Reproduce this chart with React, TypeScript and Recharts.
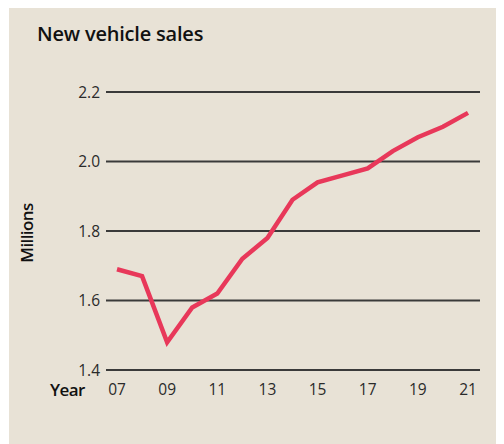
import { CartesianGrid, Line, LineChart, XAxis, YAxis } from 'recharts';

const years = [2007, 2008, 2009, 2010, 2011, 2012, 2013, 2014, 2015, 2016, 2017, 2018, 2019, 2020, 2021];
const sales = [1.69, 1.67, 1.48, 1.58, 1.62, 1.72, 1.78, 1.89, 1.94, 1.96, 1.98, 2.03, 2.07, 2.1, 2.14];
const xTicks = [2007, 2009, 2011, 2013, 2015, 2017, 2019, 2021];
const yTicks = [1.4, 1.6, 1.8, 2.0, 2.2];

const data = years.map((year, i) => ({ year, sales: sales[i] }));

const FONT = '"Open Sans", sans-serif';
const BG = '#e8e2d6';

export default function App() {
  return (
    <div style={{ position: 'relative', width: 495, height: 436, marginLeft: 1, background: BG, fontFamily: FONT }}>
      <div style={{ position: 'absolute', left: 28, top: 12, fontSize: 20, fontWeight: 600, letterSpacing: -0.2, color: '#111' }}>
        New vehicle sales
      </div>
      <div style={{ position: 'absolute', left: 17, top: 225, width: 0, height: 0 }}>
        <div style={{ position: 'absolute', transform: 'translate(-50%, -50%) rotate(-90deg)', fontSize: 17, fontWeight: 600, color: '#111', whiteSpace: 'nowrap', letterSpacing: -0.6 }}>
          Millions
        </div>
      </div>
      <div style={{ position: 'absolute', left: 41, top: 370, fontSize: 17, fontWeight: 600, color: '#111', letterSpacing: -0.6 }}>
        Year
      </div>
      <LineChart width={495} height={436} data={data} margin={{ top: 84, right: 24, bottom: 44, left: 57 }}>
        <CartesianGrid vertical={false} stroke="#3a3a3a" strokeWidth={1.8} />
        <XAxis
          dataKey="year"
          type="number"
          domain={[2007, 2021]}
          ticks={xTicks}
          padding={{ left: 11, right: 12 }}
          tickFormatter={(v: number) => String(v % 100).padStart(2, '0')}
          axisLine={false}
          tickLine={false}
          tickSize={0}
          tickMargin={14}
          height={30}
          tick={{ fill: '#2a2a2a', fontSize: 15.5, fontFamily: FONT }}
        />
        <YAxis
          domain={[1.4, 2.2]}
          ticks={yTicks}
          tickFormatter={(v: number) => v.toFixed(1)}
          axisLine={false}
          tickLine={false}
          tickSize={0}
          tickMargin={6}
          width={40}
          tick={{ fill: '#2a2a2a', fontSize: 15.5, fontFamily: FONT }}
        />
        <Line type="linear" dataKey="sales" stroke="#e8385a" strokeWidth={4.5} dot={false} isAnimationActive={false} />
      </LineChart>
    </div>
  );
}
